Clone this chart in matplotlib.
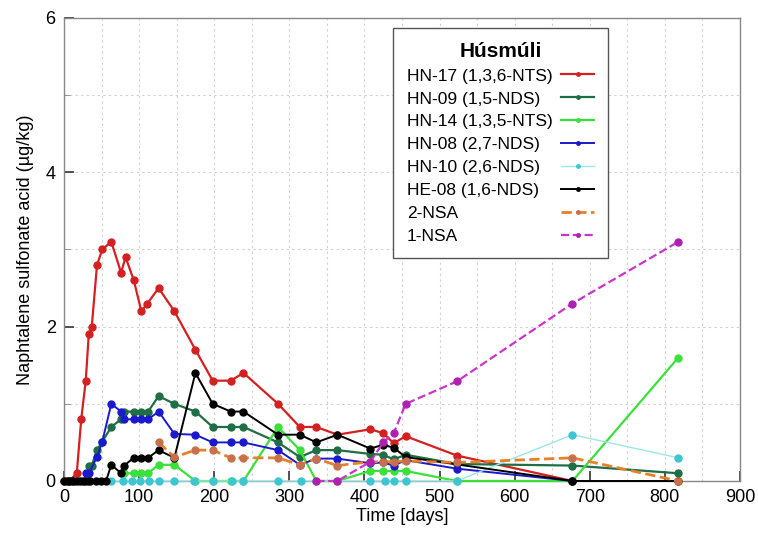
import matplotlib.pyplot as plt
from matplotlib.ticker import MultipleLocator

plt.rcParams['font.family'] = ['Liberation Sans', 'DejaVu Sans']

# Húsmúli sampling series: days after injection, concentration in µg/kg
t_hn17 = [0, 7, 17, 23, 29, 33, 37, 44, 51, 63, 76, 82, 93, 103, 111, 126, 147,
          175, 198, 222, 239, 285, 314, 336, 364, 408, 425, 439, 455, 523, 677]
hn17 = [0, 0, 0.1, 0.8, 1.3, 1.9, 2.0, 2.8, 3.0, 3.1, 2.7, 2.9, 2.6, 2.2, 2.3, 2.5, 2.2,
        1.7, 1.3, 1.3, 1.4, 1.0, 0.7, 0.7, 0.6, 0.67, 0.62, 0.49, 0.58, 0.33, 0.0]

t_hn09 = [33, 37, 44, 51, 63, 76, 80, 93, 103, 112, 126, 147, 175, 198, 222, 239,
          285, 314, 336, 364, 408, 425, 439, 455, 523, 677, 818]
hn09 = [0.2, 0.2, 0.4, 0.51, 0.7, 0.8, 0.9, 0.9, 0.9, 0.9, 1.1, 1.0, 0.9, 0.7, 0.7, 0.7,
        0.5, 0.31, 0.4, 0.4, 0.35, 0.34, 0.28, 0.34, 0.22, 0.2, 0.1]

t_hn14 = [80, 93, 103, 112, 126, 147, 175, 198, 222, 239, 285, 314, 336, 364,
          408, 425, 439, 455, 523, 677, 818]
hn14 = [0.1, 0.1, 0.1, 0.1, 0.21, 0.21, 0, 0, 0, 0, 0.7, 0.4, 0, 0,
        0.13, 0.13, 0.13, 0.13, 0, 0, 1.6]

t_hn08 = [29, 33, 44, 51, 63, 76, 80, 93, 103, 112, 126, 147, 175, 198, 222, 239,
          285, 314, 336, 364, 408, 425, 439, 455, 523, 677]
hn08 = [0.1, 0.1, 0.31, 0.51, 1.0, 0.9, 0.8, 0.8, 0.8, 0.8, 0.9, 0.61, 0.6, 0.5, 0.5, 0.5,
        0.4, 0.21, 0.29, 0.29, 0.23, 0.24, 0.2, 0.27, 0.16, 0]

t_hn10 = [63, 78, 90, 101, 113, 126, 147, 173, 199, 224, 238, 285, 315,
          408, 427, 439, 455, 523, 677, 818]
hn10 = [0, 0, 0, 0, 0, 0, 0, 0, 0, 0, 0, 0, 0,
        0, 0, 0, 0, 0, 0.6, 0.3]

t_he08 = [0, 4, 7, 11, 14, 18, 21, 25, 28, 32, 35, 42, 49, 56, 63, 76, 80, 93, 103, 112,
          126, 147, 175, 198, 222, 239, 285, 314, 336, 364, 408, 425, 439, 455, 677, 818]
he08 = [0, 0, 0, 0, 0, 0, 0, 0, 0, 0, 0, 0, 0, 0, 0.21, 0.1, 0.2, 0.3, 0.3, 0.3,
        0.4, 0.3, 1.4, 1.0, 0.9, 0.9, 0.6, 0.6, 0.5, 0.6, 0.42, 0.47, 0.43, 0.31, 0, 0]

t_nsa2 = [126, 147, 175, 198, 222, 239, 285, 314, 336, 364, 408, 425, 439, 455, 523, 677, 818]
nsa2 = [0.5, 0.31, 0.4, 0.4, 0.3, 0.3, 0.3, 0.21, 0.29, 0.2, 0.25, 0.25, 0.25, 0.26, 0.24, 0.3, 0]

t_nsa1 = [336, 364, 408, 425, 439, 455, 523, 677, 818]
nsa1 = [0, 0, 0.25, 0.5, 0.62, 1.0, 1.29, 2.3, 3.1]

series = [
    (t_hn17, hn17, 'HN-17 (1,3,6-NTS)', '#d42020', '#d42020', '-', 1.6),
    (t_hn09, hn09, 'HN-09 (1,5-NDS)', '#1f6e45', '#1f6e45', '-', 1.6),
    (t_hn14, hn14, 'HN-14 (1,3,5-NTS)', '#3be03b', '#3be03b', '-', 1.6),
    (t_hn08, hn08, 'HN-08 (2,7-NDS)', '#1a1acc', '#1a1acc', '-', 1.4),
    (t_hn10, hn10, 'HN-10 (2,6-NDS)', '#9ae6ea', '#3cc6d2', '-', 1.0),
    (t_he08, he08, 'HE-08 (1,6-NDS)', '#000000', '#000000', '-', 1.4),
    (t_nsa2, nsa2, '2-NSA', '#e8802a', '#c8704a', '--', 2.0),
    (t_nsa1, nsa1, '1-NSA', '#cc33cc', '#b020b0', '--', 1.6),
]

fig = plt.figure(figsize=(7.58, 5.37), dpi=100)
ax = fig.add_axes([0.0844, 0.1043, 0.8918, 0.8622])

for t, v, name, lc, mc, ls, lw in series:
    ax.plot(t, v, ls, color=lc, lw=lw, marker='o', ms=5,
            mfc=mc, mec=mc, label=name, clip_on=False, zorder=3)

ax.set_xlim(0, 900)
ax.set_ylim(0, 6)
ax.xaxis.set_major_locator(MultipleLocator(100))
ax.xaxis.set_minor_locator(MultipleLocator(50))
ax.yaxis.set_major_locator(MultipleLocator(2))
ax.yaxis.set_minor_locator(MultipleLocator(1))
ax.grid(which='both', color='#cfcfcf', linestyle=(0, (2, 3)), linewidth=0.8)
ax.tick_params(which='major', direction='in', length=7, width=1.2,
               labelsize=13, color='#333333', pad=6)
ax.tick_params(which='minor', direction='in', length=4, color='#888888')
ax.tick_params(axis='x', which='minor', length=0)
for s in ax.spines.values():
    s.set_color('#888888')
    s.set_linewidth(1.0)

ax.set_xlabel('Time [days]', fontsize=13, labelpad=1)
ax.set_ylabel('Naphtalene sulfonate acid (µg/kg)', fontsize=13, labelpad=8)

leg = ax.legend(loc='upper left', bbox_to_anchor=(0.487, 0.979), borderaxespad=0,
                title='Húsmúli', fontsize=12.5, markerfirst=False, markerscale=0.5,
                handlelength=1.9, handletextpad=0.5, labelspacing=0.45,
                fancybox=False, framealpha=1, edgecolor='#555555', borderpad=0.8)
leg.get_title().set_fontweight('bold')
leg.get_title().set_fontsize(15)
leg.get_frame().set_linewidth(1.0)

# left-align the labels while keeping the line samples in one column on the right
renderer = fig.canvas.get_renderer()
widths = [txt.get_window_extent(renderer).width for txt in leg.get_texts()]
wmax = max(widths)
for col in leg._legend_handle_box.get_children():
    col.align = 'left'
    for row in col.get_children():
        txt = row.get_children()[0]._text
        w = txt.get_window_extent(renderer).width
        row.sep = row.sep + (wmax - w) * 72.0 / fig.dpi

fig.savefig('out.png', dpi=100)
